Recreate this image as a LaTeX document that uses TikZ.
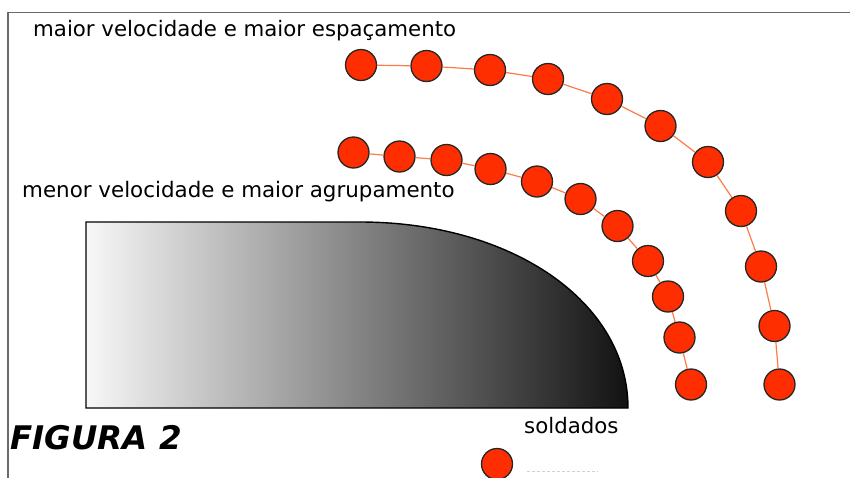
\documentclass[tikz,border=0pt]{standalone}
\usepackage{fontspec}
\setmainfont{DejaVu Sans}
\definecolor{soldred}{HTML}{FF2E00}
\definecolor{lineorange}{HTML}{FF7A45}
\definecolor{framegray}{HTML}{6A6A6A}
\tikzset{
  soldier/.style={circle, draw=black!85, line width=1.3pt, fill=soldred, minimum size=31pt, inner sep=0pt},
  chain/.style={draw=lineorange, line width=1.2pt},
  lbl/.style={anchor=base west, inner sep=0pt, font=\fontsize{21.3}{24}\selectfont},
}
\begin{document}
\begin{tikzpicture}[x=1pt,y=-1pt]
\useasboundingbox (0,0) rectangle (850,477);
\fill[white] (0,0) rectangle (850,477);
% frame
\draw[framegray, line width=1.6pt] (8,480) -- (8,12.5) -- (852,12.5);
% body
\shade[left color=white!97!black, right color=black!93, draw=black, line width=1.4pt]
  (86,222) -- (360,222) .. controls (512,222) and (628,302) .. (628,408) -- (86,408) -- cycle;
% texts
\node[lbl] (t1) at (33,36.7) {maior velocidade e maior espaçamento};
\node[lbl, font=\fontsize{21.4}{24}\selectfont] (t2) at (22,197) {menor velocidade e maior agrupamento};
\node[anchor=base west, inner sep=0pt, font=\fontsize{32.5}{35}\bfseries\itshape\selectfont] (fig) at (10,449) {FIGURA 2};
% outer arc
\foreach \n/\p in {1/{361,65},2/{426.5,66},3/{490,70},4/{548,79},5/{607,99},6/{660.5,126},7/{708,162},8/{741,211},9/{761,266.5},10/{774.5,326},11/{779.5,384.5}}{
  \node[soldier] (o\n) at (\p) {};
}
\foreach \n/\p in {1/{353.5,152.5},2/{399.5,156.5},3/{446.5,160},4/{490.5,169},5/{537,181.5},6/{580.5,199},7/{617.5,226},8/{648,261},9/{668,296.5},10/{679.5,337.5},11/{691,384.5}}{
  \node[soldier] (i\n) at (\p) {};
}
\foreach \a/\b in {1/2,2/3,3/4,4/5,5/6,6/7,7/8,8/9,9/10,10/11}{
  \draw[chain] (o\a) -- (o\b);
  \draw[chain] (i\a) -- (i\b);
}
% legend
\node[soldier] (leg) at (497,464) {};
\node[lbl] (legt) at (524,433) {soldados};
\coordinate (g1) at (527,471);
\coordinate (g2) at (598,471);
\draw[black!18, line width=1pt, dash pattern=on 3pt off 2pt] (g1) -- (g2);
\end{tikzpicture}
\end{document}
